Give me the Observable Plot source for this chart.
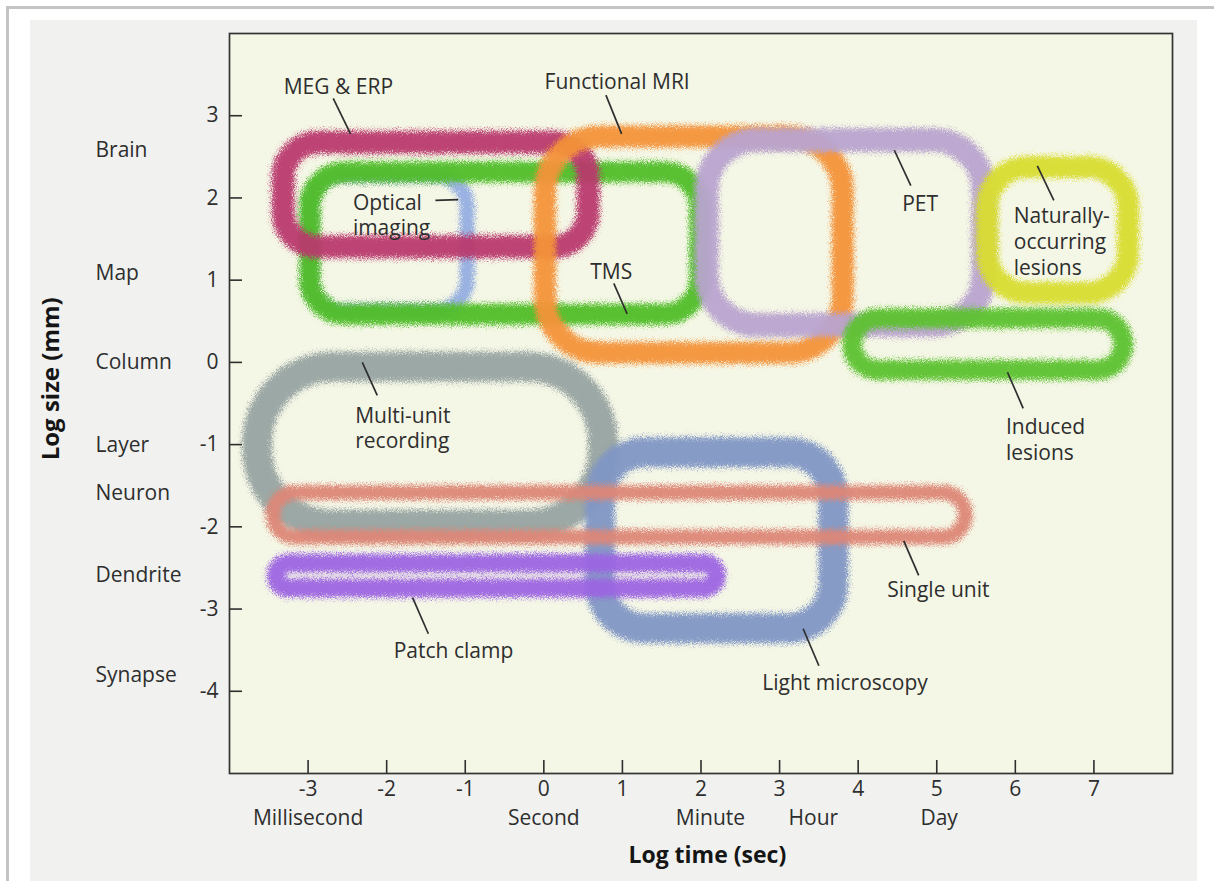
<!DOCTYPE html>
<html><head><meta charset="utf-8">
<script src="https://cdn.jsdelivr.net/npm/d3@7"></script>
<script src="https://cdn.jsdelivr.net/npm/@observablehq/plot@0.6"></script>
<style>
html,body{margin:0;padding:0;background:#fff;width:1214px;height:881px;overflow:hidden;}
#page{position:relative;width:1214px;height:881px;}
#border{position:absolute;left:6px;top:6px;right:0;bottom:0;border-left:3px solid #c4c4c4;border-top:3px solid #c4c4c4;}
#paper{position:absolute;left:30px;top:20px;width:1167px;height:861px;background:#f1f2f0;}
#chart{position:absolute;left:0;top:0;}
</style></head>
<body><div id="page"><div id="border"></div><div id="paper"></div><div id="chart"></div></div>
<script>
// ---- data ----
const methods  = ["Multi-unit recording","Light microscopy","Single unit","Patch clamp","Optical imaging","TMS","MEG & ERP","Functional MRI","PET","Naturally-occurring lesions","Induced lesions"];
const timeFrom = [-3.64, 0.72, -3.44, -3.40, -2.97, -2.97, -3.31, 0.02, 2.08, 5.65, 3.93];
const timeTo   = [ 0.76, 3.69,  5.37,  2.20, -0.97,  1.99,  0.57, 3.81, 5.60, 7.44, 7.38];
const sizeFrom = [-1.98, -3.24, -2.13, -2.75, 0.62, 0.58, 1.40, 0.11, 0.45, 0.84, -0.10];
const sizeTo   = [-0.06, -1.10, -1.59, -2.45, 2.27, 2.31, 2.67, 2.74, 2.70, 2.37, 0.53];

const xTicks = [-3,-2,-1,0,1,2,3,4,5,6,7];
const yTicks = [3,2,1,0,-1,-2,-3,-4];
const sizeNames = ["Brain","Map","Column","Layer","Neuron","Dendrite","Synapse"];
const sizeAt    = [2.58, 1.08, 0.0, -1.01, -1.59, -2.59, -3.81];
const timeNames = ["Millisecond","Second","Minute","Hour","Day"];
const timeAt    = [-3, 0, 2.12, 3.43, 5.03];

const labelText = ["MEG & ERP","Functional MRI","Optical\nimaging","TMS","PET","Naturally-\noccurring\nlesions","Induced\nlesions","Multi-unit\nrecording","Single unit","Patch clamp","Light microscopy"];
const labelX = [-3.31, 0.01, -2.43, 0.59, 4.56, 5.98, 5.88, -2.40, 4.37, -1.91, 2.78];
const labelY = [ 3.36, 3.43,  1.80, 1.12, 1.94, 1.48, -0.93, -0.79, -2.75, -3.50, -3.89];
const leadX1 = [-2.68, 0.79, -1.38, 0.89, 4.46, 6.28, 5.90, -2.31, 4.58, -1.67, 3.30];
const leadY1 = [ 3.21, 3.25,  1.97, 0.96, 2.58, 2.39, -0.12, 0.00, -2.17, -2.86, -3.24];
const leadX2 = [-2.46, 0.99, -1.09, 1.06, 4.67, 6.49, 6.10, -2.12, 4.77, -1.47, 3.50];
const leadY2 = [ 2.78, 2.78,  1.98, 0.59, 2.15, 1.97, -0.56, -0.40, -2.59, -3.30, -3.69];

const xTitle = "Log time (sec)", xTitleAt = 2.08;
const yTitle = "Log size (mm)",  yTitleAt = -0.20;

// ---- styles ----
const bandColor = {"Multi-unit recording":"#97a3a1","Light microscopy":"#8096c4","Single unit":"#dc8676","Patch clamp":"#9c64e2","Optical imaging":"#95aee0","MEG & ERP":"#b8386d","TMS":"#4fbd26","Functional MRI":"#f39238","PET":"#b8a3cf","Naturally-occurring lesions":"#d8dc2e","Induced lesions":"#5cc12f"};
const bandWidth = {"Multi-unit recording":30,"Light microscopy":30,"Single unit":15,"Patch clamp":19,"Optical imaging":15,"MEG & ERP":23,"TMS":21,"Functional MRI":22,"PET":24,"Naturally-occurring lesions":22,"Induced lesions":20};
const corner    = {"Multi-unit recording":75,"Light microscopy":45,"Single unit":"pill","Patch clamp":"pill","Optical imaging":32,"MEG & ERP":35,"TMS":35,"Functional MRI":55,"PET":50,"Naturally-occurring lesions":40,"Induced lesions":"pill"};
const blend     = {"TMS":"normal"};

const W = 1214, H = 881, mL = 229, mR = 42, mT = 33, mB = 108;
const xDom = [-4, 8], yDom = [-5, 4];
const pxPerY = (H - mT - mB) / (yDom[1] - yDom[0]);
const pxPerX = (W - mL - mR) / (xDom[1] - xDom[0]);

const rows = methods.map((m, i) => ({method: m, t0: timeFrom[i], t1: timeTo[i], s0: sizeFrom[i], s1: sizeTo[i]}));
const labels = labelText.map((t, i) => ({t, x: labelX[i], y: labelY[i]}));
const leaders = leadX1.map((d, i) => ({x1: d, y1: leadY1[i], x2: leadX2[i], y2: leadY2[i]}));

const bandMarks = rows.map(r => {
  const c = corner[r.method];
  const rad = c === "pill" ? Math.abs(r.s1 - r.s0) * pxPerY / 2 : c;
  return Plot.rect([r], {x1: "t0", x2: "t1", y1: "s0", y2: "s1", fill: "none",
    stroke: bandColor[r.method], strokeWidth: bandWidth[r.method], strokeOpacity: 0.95,
    rx: rad, ry: rad, mixBlendMode: blend[r.method] || "multiply"});
});

const ink = "#2e2e2e";
const fs = 21;
const chart = Plot.plot({
  width: W, height: H, marginLeft: mL, marginRight: mR, marginTop: mT, marginBottom: mB,
  x: {domain: xDom, axis: null},
  y: {domain: yDom, axis: null},
  style: {background: "transparent", fontFamily: "'Open Sans', 'Noto Sans', sans-serif", fontSize: fs + "px", color: ink, overflow: "visible"},
  marks: [
    Plot.frame({fill: "#f5f7e6", stroke: "none"}),
    ...bandMarks,
    Plot.link(leaders, {x1: "x1", y1: "y1", x2: "x2", y2: "y2", stroke: ink, strokeWidth: 1.7}),
    Plot.text(labels, {x: "x", y: "y", text: "t", textAnchor: "start", lineHeight: 1.22, fontSize: fs, fill: ink}),
    Plot.ruleX(xTicks, {x: d => d, y1: yDom[0], y2: yDom[0] + 13 / pxPerY, stroke: ink, strokeWidth: 1.6}),
    Plot.ruleY(yTicks, {y: d => d, x1: xDom[0], x2: xDom[0] + 13 / pxPerX, stroke: ink, strokeWidth: 1.6}),
    Plot.text(xTicks, {x: d => d, text: d => String(d), frameAnchor: "bottom", dy: 22, fontSize: fs, fill: ink}),
    Plot.text(yTicks, {y: d => d, text: d => String(d), frameAnchor: "left", dx: -11, textAnchor: "end", fontSize: fs, fill: ink}),
    Plot.text(sizeNames, {y: (d, i) => sizeAt[i], text: d => d, frameAnchor: "left", dx: -134, textAnchor: "start", fontSize: fs, fill: ink}),
    Plot.text(timeNames, {x: (d, i) => timeAt[i], text: d => d, frameAnchor: "bottom", dy: 51, fontSize: fs, fill: ink}),
    Plot.text([xTitle], {x: () => xTitleAt, text: d => d, frameAnchor: "bottom", dy: 89, fontSize: 23, fontWeight: "bold", fill: "#151515"}),
    Plot.text([yTitle], {y: () => yTitleAt, text: d => d, frameAnchor: "left", dx: -178, rotate: -90, textAnchor: "middle", fontSize: 24, fontWeight: "bold", fill: "#151515"}),
    Plot.frame({stroke: "#333", strokeWidth: 1.7})
  ]
});

// grainy, smudged edges like crayon strokes
const defs = document.createElementNS("http://www.w3.org/2000/svg", "defs");
defs.innerHTML = `<filter id="fuzz" filterUnits="userSpaceOnUse" x="0" y="0" width="${W}" height="${H}">
  <feTurbulence type="fractalNoise" baseFrequency="1.2" numOctaves="2" seed="4" result="noise"/>
  <feGaussianBlur in="SourceGraphic" stdDeviation="2.2" result="soft"/>
  <feDisplacementMap in="soft" in2="noise" scale="13" xChannelSelector="R" yChannelSelector="G" result="d"/>
  <feGaussianBlur in="d" stdDeviation="0.7"/>
</filter>`;
chart.insertBefore(defs, chart.firstChild);
chart.querySelectorAll('g[aria-label="rect"]').forEach(g => g.setAttribute("filter", "url(#fuzz)"));
document.getElementById("chart").appendChild(chart);
</script>
</body></html>
